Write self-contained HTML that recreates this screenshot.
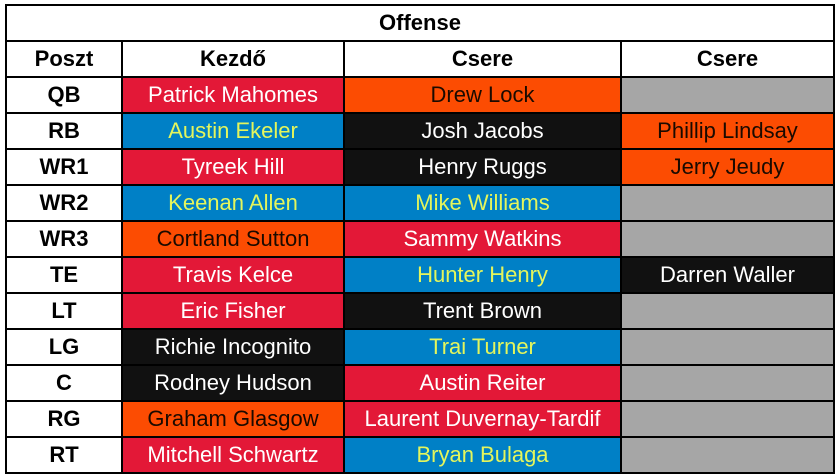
<!DOCTYPE html>
<html><head><meta charset="utf-8"><style>
html,body{margin:0;padding:0;background:#fff;width:835px;height:474px;overflow:hidden}
table{position:absolute;left:5px;top:4px;border-collapse:collapse;font-family:"Liberation Sans",sans-serif;font-size:22px;table-layout:fixed}
td{border:2px solid #000;height:34px;padding:0;text-align:center;white-space:nowrap;overflow:hidden;color:#fff;line-height:34px}
.h td{color:#000;font-weight:bold;background:#fff}
td.p{color:#000;font-weight:bold;background:#fff}
.r{background:#E31837}.o{background:#FC4C02;color:#1a0a00}.b{background:#0080C6;color:#E4F55C}.k{background:#111}.g{background:#A6A6A6}
</style></head><body>
<table>
<colgroup><col style="width:116px"><col style="width:222px"><col style="width:277px"><col style="width:213px"></colgroup>
<tr class="h"><td colspan="4">Offense</td></tr>
<tr class="h"><td>Poszt</td><td>Kezdő</td><td>Csere</td><td>Csere</td></tr>
<tr><td class="p">QB</td><td class="r">Patrick Mahomes</td><td class="o">Drew Lock</td><td class="g"></td></tr>
<tr><td class="p">RB</td><td class="b">Austin Ekeler</td><td class="k">Josh Jacobs</td><td class="o">Phillip Lindsay</td></tr>
<tr><td class="p">WR1</td><td class="r">Tyreek Hill</td><td class="k">Henry Ruggs</td><td class="o">Jerry Jeudy</td></tr>
<tr><td class="p">WR2</td><td class="b">Keenan Allen</td><td class="b">Mike Williams</td><td class="g"></td></tr>
<tr><td class="p">WR3</td><td class="o">Cortland Sutton</td><td class="r">Sammy Watkins</td><td class="g"></td></tr>
<tr><td class="p">TE</td><td class="r">Travis Kelce</td><td class="b">Hunter Henry</td><td class="k">Darren Waller</td></tr>
<tr><td class="p">LT</td><td class="r">Eric Fisher</td><td class="k">Trent Brown</td><td class="g"></td></tr>
<tr><td class="p">LG</td><td class="k">Richie Incognito</td><td class="b">Trai Turner</td><td class="g"></td></tr>
<tr><td class="p">C</td><td class="k">Rodney Hudson</td><td class="r">Austin Reiter</td><td class="g"></td></tr>
<tr><td class="p">RG</td><td class="o">Graham Glasgow</td><td class="r">Laurent Duvernay-Tardif</td><td class="g"></td></tr>
<tr><td class="p">RT</td><td class="r">Mitchell Schwartz</td><td class="b">Bryan Bulaga</td><td class="g"></td></tr>
</table>
</body></html>
